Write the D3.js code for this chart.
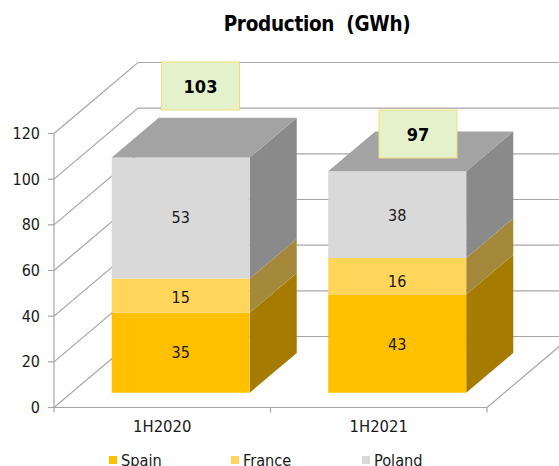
<!DOCTYPE html>
<html>
<head>
<meta charset="utf-8">
<script src="https://cdn.jsdelivr.net/npm/d3@7/dist/d3.min.js"></script>
<style>
  html, body { margin: 0; padding: 0; background: #fff; overflow: hidden; }
  svg { display: block; }
  text { font-family: "DejaVu Sans Condensed", "DejaVu Sans", sans-serif; font-stretch: condensed; fill: #1a1a1a; }
</style>
</head>
<body>
<svg id="chart" width="559" height="466"></svg>
<script>
// Chart values
const periods = ["1H2020", "1H2021"];
const countries = ["Spain", "France", "Poland"];
const spain = [35, 43];
const france = [15, 16];
const poland = [53, 38];
const totals = [103, 97];
const yTicks = [0, 20, 40, 60, 80, 100, 120];

// Colours: front, side and top faces for each series
const frontColors = ["#ffc000", "#ffd55a", "#d9d9d9"];
const sideColors = ["#a67c00", "#a5893a", "#8a8a8a"];
const topColor = "#a3a3a3";
const gridColor = "#a6a6a6";

// Vertical nudges for the segment labels, per series then per column
const labelNudges = [[0, 1], [2, 5], [-1, 1]];

const svg = d3.select("#chart");
const W = 559;

// Oblique projection of the plot box: depth 0 is the front plane, depth 1 the back wall
const box = { left: 54, right: 487, floor: 407.5, top: 133.5, dx: 84, dy: -71 };
const y = d3.scaleLinear().domain([0, 120]).range([box.floor, box.top]);
const x = d3.scaleBand().domain(periods).range([box.left, box.right]).paddingInner(0).paddingOuter(0);
const depthX = d3.scaleLinear().domain([0, 1]).range([0, box.dx]);
const depthY = d3.scaleLinear().domain([0, 1]).range([0, box.dy]);
const project = (px, v, d) => [px + depthX(d), y(v) + depthY(d)];
const pathOf = pts => "M" + pts.map(p => p.join(",")).join("L") + "Z";

// Gridlines run along the side wall, then across the back wall
const grid = svg.append("g").attr("fill", "none").attr("stroke", gridColor).attr("stroke-width", 1.2);
grid.selectAll("path").data(yTicks).join("path")
  .attr("d", v => {
    const a = project(box.left, v, 0), b = project(box.left, v, 1);
    return `M${a}L${b}L${W + 5},${b[1]}`;
  });

// Floor edge on the right-hand side and the front axis lines
grid.append("path").attr("d", () => {
  const a = project(box.right, 0, 0), b = project(box.right, 0, 1);
  return `M${a}L${b}`;
});
grid.append("path").attr("d", `M${box.left},${box.top}V${box.floor}H${box.right}`);
grid.selectAll("path.ytick").data(yTicks).join("path").attr("class", "ytick")
  .attr("d", v => `M${box.left - 6},${y(v)}H${box.left}`);
grid.selectAll("path.xtick").data([box.left, x(periods[1]), box.right]).join("path").attr("class", "xtick")
  .attr("d", px => `M${px},${box.floor}v5`);

// Stacked columns
const rows = periods.map((p, i) => ({ period: p, Spain: spain[i], France: france[i], Poland: poland[i] }));
const stacked = d3.stack().keys(countries)(rows);

const barWidth = 138;
const depthFront = 0.208, depthBack = 0.768;
const bars = svg.append("g");

periods.forEach((p, i) => {
  const x0 = x(p) + x.bandwidth() / 2 - barWidth / 2 + 1;
  const x1 = x0 + barWidth;
  const g = bars.append("g");
  stacked.forEach((layer, s) => {
    const [v0, v1] = layer[i];
    g.append("path").attr("fill", sideColors[s]).attr("d", pathOf([
      project(x1, v0, depthFront), project(x1, v0, depthBack),
      project(x1, v1, depthBack), project(x1, v1, depthFront)
    ]));
    g.append("path").attr("fill", frontColors[s]).attr("d", pathOf([
      project(x0, v0, depthFront), project(x1, v0, depthFront),
      project(x1, v1, depthFront), project(x0, v1, depthFront)
    ]));
    const mid = project((x0 + x1) / 2, (v0 + v1) / 2, depthFront);
    g.append("text").attr("x", mid[0]).attr("y", mid[1] + labelNudges[s][i])
      .attr("text-anchor", "middle").attr("dominant-baseline", "central")
      .attr("font-size", 16).text(layer[i].data[countries[s]]);
  });
  const t = totals[i];
  g.append("path").attr("fill", topColor).attr("d", pathOf([
    project(x0, t, depthFront), project(x1, t, depthFront),
    project(x1, t, depthBack), project(x0, t, depthBack)
  ]));
});

// Total callouts above each column
const calloutCentres = [[200.5, 86], [418, 134]];
const callouts = svg.append("g");
totals.forEach((t, i) => {
  const [cx, cy] = calloutCentres[i];
  callouts.append("rect").attr("x", cx - 39).attr("y", cy - 24).attr("width", 78).attr("height", 48)
    .attr("fill", "#e4f2cb").attr("stroke", "#f3dc78").attr("stroke-width", 1);
  callouts.append("text").attr("x", cx).attr("y", cy)
    .attr("text-anchor", "middle").attr("dominant-baseline", "central")
    .attr("font-size", 18).attr("font-weight", 700).style("fill", "#000").text(t);
});

// Axis labels
const yAxis = svg.append("g").attr("transform", `translate(${box.left},0)`)
  .call(d3.axisLeft(y).tickValues(yTicks).tickSize(0).tickPadding(14).tickFormat(d3.format("d")));
yAxis.select(".domain").remove();
yAxis.selectAll("text").attr("font-size", 16);

const xAxis = svg.append("g").attr("transform", `translate(0,${box.floor})`)
  .call(d3.axisBottom(x).tickSize(0).tickPadding(13));
xAxis.select(".domain").remove();
xAxis.selectAll("text").attr("font-size", 16.5);
yAxis.attr("font-family", null);
xAxis.attr("font-family", null);

// Title
svg.append("text").attr("x", 317).attr("y", 31).attr("text-anchor", "middle")
  .attr("font-size", 20.5).attr("font-weight", 700).attr("letter-spacing", -0.3).style("fill", "#000")
  .attr("xml:space", "preserve").text("Production  (GWh)");

// Legend
const legendX = d3.scaleOrdinal().domain(countries).range([109, 231, 362]);
const legend = svg.append("g").selectAll("g").data(countries).join("g")
  .attr("transform", d => `translate(${legendX(d)},456)`);
legend.append("rect").attr("width", 8).attr("height", 8).attr("fill", (d, i) => frontColors[i]);
legend.append("text").attr("x", 12).attr("y", 9.5).attr("font-size", 16.2).text(d => d);
</script>
</body>
</html>
